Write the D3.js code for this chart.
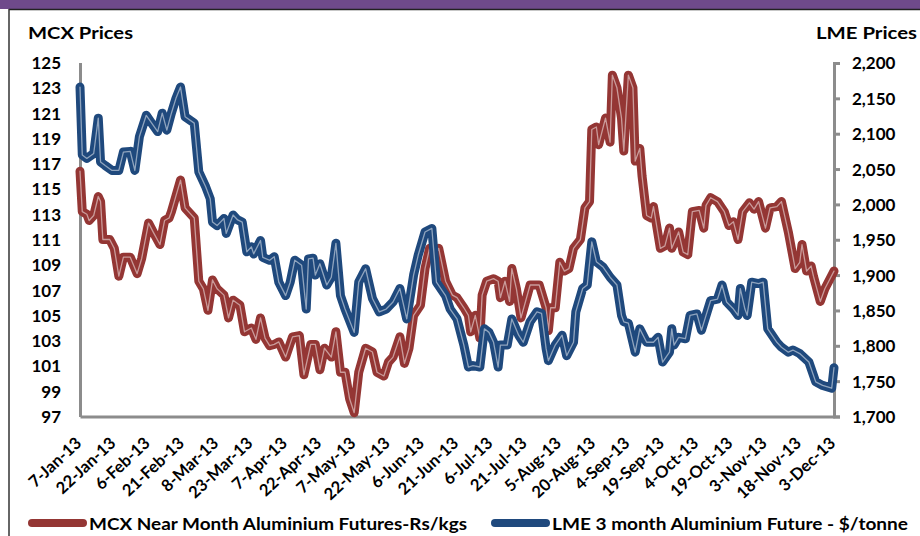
<!DOCTYPE html>
<html><head><meta charset="utf-8">
<script src="https://cdn.jsdelivr.net/npm/d3@7"></script>
<style>
html,body{margin:0;padding:0;background:#fff;}
svg text{font-family:Lato,"Open Sans",sans-serif;font-weight:700;fill:#000;}
</style></head>
<body><svg id="c" width="920" height="536"></svg>
<script>
const mcxDates = ["7-Jan-13","8-Jan-13","10-Jan-13","11-Jan-13","13-Jan-13","15-Jan-13","16-Jan-13","17-Jan-13","20-Jan-13","22-Jan-13","24-Jan-13","26-Jan-13","29-Jan-13",
"1-Feb-13","3-Feb-13","6-Feb-13","8-Feb-13","11-Feb-13","13-Feb-13","15-Feb-13","16-Feb-13","20-Feb-13","22-Feb-13","26-Feb-13","28-Feb-13",
"2-Mar-13","4-Mar-13","6-Mar-13","8-Mar-13","11-Mar-13","13-Mar-13","15-Mar-13","18-Mar-13","20-Mar-13","23-Mar-13","25-Mar-13","27-Mar-13","29-Mar-13","31-Mar-13",
"2-Apr-13","4-Apr-13","7-Apr-13","10-Apr-13","13-Apr-13","15-Apr-13","18-Apr-13","20-Apr-13","22-Apr-13","24-Apr-13","27-Apr-13","29-Apr-13",
"1-May-13","3-May-13","5-May-13","7-May-13","9-May-13","12-May-13","15-May-13","17-May-13","20-May-13","22-May-13","24-May-13","27-May-13","29-May-13","31-May-13",
"2-Jun-13","5-Jun-13","7-Jun-13","9-Jun-13","11-Jun-13","13-Jun-13","16-Jun-13","19-Jun-13","21-Jun-13","24-Jun-13","26-Jun-13","27-Jun-13","29-Jun-13",
"1-Jul-13","2-Jul-13","4-Jul-13","7-Jul-13","9-Jul-13","10-Jul-13","12-Jul-13","14-Jul-13","15-Jul-13","17-Jul-13","19-Jul-13","23-Jul-13","27-Jul-13","30-Jul-13","31-Jul-13",
"1-Aug-13","3-Aug-13","5-Aug-13","7-Aug-13","9-Aug-13","11-Aug-13","14-Aug-13","16-Aug-13","18-Aug-13","19-Aug-13","21-Aug-13","22-Aug-13","25-Aug-13","27-Aug-13","28-Aug-13","30-Aug-13",
"1-Sep-13","2-Sep-13","4-Sep-13","6-Sep-13","7-Sep-13","9-Sep-13","10-Sep-13","12-Sep-13","14-Sep-13","15-Sep-13","18-Sep-13","20-Sep-13","22-Sep-13","23-Sep-13","26-Sep-13","28-Sep-13","30-Sep-13",
"2-Oct-13","5-Oct-13","7-Oct-13","8-Oct-13","10-Oct-13","13-Oct-13","16-Oct-13","18-Oct-13","20-Oct-13","22-Oct-13","24-Oct-13","27-Oct-13","29-Oct-13","31-Oct-13",
"3-Nov-13","5-Nov-13","8-Nov-13","10-Nov-13","13-Nov-13","16-Nov-13","18-Nov-13","19-Nov-13","21-Nov-13","23-Nov-13","24-Nov-13","27-Nov-13","29-Nov-13","3-Dec-13"];
const mcxValues = [116.4,113.2,113.0,112.5,112.9,114.4,114.0,111.0,111.0,110.3,108.1,109.6,109.6,
108.3,109.5,112.3,111.6,110.6,112.5,112.7,113.2,115.7,113.5,112.7,107.7,
107.1,105.4,107.8,107.1,106.6,104.8,106.2,105.8,103.7,104.0,103.1,104.8,103.2,102.6,
102.7,102.9,101.7,103.3,103.4,100.3,102.7,102.7,100.7,102.4,101.7,103.7,
100.5,100.5,98.4,97.3,100.5,102.4,102.1,100.5,100.2,101.3,101.7,103.3,101.2,102.4,
105.0,105.8,108.7,110.3,109.5,110.3,107.7,106.6,106.4,105.6,105.0,103.7,105.0,
103.2,106.6,107.7,107.9,107.7,106.4,107.7,106.1,108.7,107.1,104.8,107.4,107.4,105.6,103.8,
105.6,105.6,109.2,108.5,108.7,110.3,111.0,113.5,114.0,119.7,119.9,118.5,120.6,118.7,124.0,123.0,
120.6,118.0,124.0,123.0,117.2,118.2,116.0,112.9,112.7,113.6,110.3,110.5,111.9,110.3,111.6,110.0,109.8,
113.2,113.3,111.9,113.7,114.3,114.0,113.2,112.1,112.4,111.0,113.2,113.9,113.4,114.0,
111.9,113.5,113.6,114.0,111.6,108.7,109.2,110.6,108.5,108.9,108.1,106.1,107.1,108.5];

const lmeDates = ["7-Jan-13","8-Jan-13","10-Jan-13","13-Jan-13","15-Jan-13","16-Jan-13","18-Jan-13","21-Jan-13","24-Jan-13","26-Jan-13","29-Jan-13","31-Jan-13",
"2-Feb-13","5-Feb-13","8-Feb-13","10-Feb-13","12-Feb-13","14-Feb-13","16-Feb-13","18-Feb-13","20-Feb-13","22-Feb-13","26-Feb-13","28-Feb-13",
"3-Mar-13","5-Mar-13","6-Mar-13","8-Mar-13","11-Mar-13","12-Mar-13","15-Mar-13","17-Mar-13","19-Mar-13","21-Mar-13","23-Mar-13","24-Mar-13","27-Mar-13","28-Mar-13","31-Mar-13",
"2-Apr-13","4-Apr-13","7-Apr-13","9-Apr-13","11-Apr-13","14-Apr-13","16-Apr-13","17-Apr-13","19-Apr-13","20-Apr-13","22-Apr-13","25-Apr-13","27-Apr-13","29-Apr-13",
"1-May-13","3-May-13","7-May-13","9-May-13","12-May-13","15-May-13","18-May-13","21-May-13","24-May-13","27-May-13","30-May-13",
"2-Jun-13","4-Jun-13","7-Jun-13","10-Jun-13","12-Jun-13","16-Jun-13","18-Jun-13","21-Jun-13","24-Jun-13","26-Jun-13","28-Jun-13",
"1-Jul-13","3-Jul-13","5-Jul-13","7-Jul-13","9-Jul-13","10-Jul-13","13-Jul-13","15-Jul-13","18-Jul-13","20-Jul-13","23-Jul-13","26-Jul-13","28-Jul-13","30-Jul-13","31-Jul-13",
"3-Aug-13","6-Aug-13","8-Aug-13","11-Aug-13","12-Aug-13","15-Aug-13","17-Aug-13","19-Aug-13","21-Aug-13","24-Aug-13","27-Aug-13","30-Aug-13",
"1-Sep-13","2-Sep-13","4-Sep-13","7-Sep-13","9-Sep-13","12-Sep-13","15-Sep-13","17-Sep-13","19-Sep-13","22-Sep-13","23-Sep-13","24-Sep-13","26-Sep-13","29-Sep-13",
"1-Oct-13","4-Oct-13","6-Oct-13","8-Oct-13","10-Oct-13","13-Oct-13","15-Oct-13","17-Oct-13","20-Oct-13","22-Oct-13","23-Oct-13","25-Oct-13","26-Oct-13","28-Oct-13","31-Oct-13",
"2-Nov-13","4-Nov-13","8-Nov-13","10-Nov-13","13-Nov-13","15-Nov-13","18-Nov-13","22-Nov-13","25-Nov-13","28-Nov-13","2-Dec-13","3-Dec-13"];
const lmeValues = [2166,2070,2065,2072,2122,2060,2055,2048,2048,2074,2075,2048,
2096,2126,2112,2103,2129,2105,2129,2150,2166,2124,2115,2046,
2025,2008,1975,1970,1980,1959,1985,1978,1975,1933,1940,1930,1949,1925,1921,
1926,1890,1871,1890,1921,1914,1852,1923,1924,1900,1916,1886,1897,1945,
1871,1852,1819,1890,1909,1867,1848,1852,1862,1881,1838,
1900,1928,1961,1966,1890,1871,1852,1838,1801,1770,1772,
1770,1824,1819,1805,1770,1801,1801,1838,1815,1805,1834,1848,1846,1796,1779,
1801,1815,1786,1805,1848,1881,1886,1947,1919,1911,1897,1886,
1843,1834,1832,1791,1824,1805,1805,1812,1777,1791,1824,1801,1812,1810,
1843,1845,1822,1843,1864,1866,1886,1862,1852,1843,1881,1852,1843,1890,1888,
1890,1824,1805,1798,1791,1794,1789,1777,1749,1744,1740,1769];

const xTickLabels = ["7-Jan-13","22-Jan-13","6-Feb-13","21-Feb-13","8-Mar-13","23-Mar-13","7-Apr-13","22-Apr-13","7-May-13","22-May-13","6-Jun-13","21-Jun-13","6-Jul-13","21-Jul-13","5-Aug-13","20-Aug-13","4-Sep-13","19-Sep-13","4-Oct-13","19-Oct-13","3-Nov-13","18-Nov-13","3-Dec-13"];
const leftTicks = [97,99,101,103,105,107,109,111,113,115,117,119,121,123,125];
const rightTicks = [1700,1750,1800,1850,1900,1950,2000,2050,2100,2150,2200];
const seriesNames = ["MCX Near Month Aluminium Futures-Rs/kgs","LME 3 month Aluminium Future - $/tonne"];
const axisTitles = ["MCX Prices","LME Prices"];

const parse = d3.timeParse("%d-%b-%y");
const colors = ["#943634","#1f497d"];
const svg = d3.select("#c");

// frame
svg.append("rect").attr("x",0).attr("y",0).attr("width",920).attr("height",9).attr("fill","#6f4a8b");
svg.append("line").attr("x1",9).attr("x2",920).attr("y1",9.5).attr("y2",9.5).attr("stroke","#222").attr("stroke-width",1.5);
svg.append("line").attr("x1",9).attr("x2",9).attr("y1",9).attr("y2",536).attr("stroke","#333").attr("stroke-width",1.5);

const x = d3.scaleTime().domain([parse(xTickLabels[0]), parse(xTickLabels[xTickLabels.length-1])]).range([80,834]);
const yL = d3.scaleLinear().domain([97,125]).range([416.5,62.5]);
const yR = d3.scaleLinear().domain([1700,2200]).range([416.5,63]);

const axisColor = "#8c8c8c";
// left axis
const gL = svg.append("g").attr("transform","translate(80,0)")
  .call(d3.axisLeft(yL).tickValues(leftTicks).tickSize(0).tickPadding(19).tickFormat(d3.format("d")));
gL.select(".domain").attr("stroke",axisColor).attr("stroke-width",3);
gL.selectAll("text").style("font-size","17px").attr("dy","0.35em");

// right axis
const gR = svg.append("g").attr("transform","translate(834,0)")
  .call(d3.axisRight(yR).tickValues(rightTicks).tickSize(6).tickPadding(12).tickFormat(d3.format(",")));
gR.select(".domain").attr("stroke",axisColor).attr("stroke-width",3);
gR.selectAll("line").attr("stroke",axisColor).attr("stroke-width",3);
gR.selectAll("text").style("font-size","17px").attr("dy","0.35em");

// bottom axis
const gB = svg.append("g").attr("transform","translate(0,416.5)")
  .call(d3.axisBottom(x).tickValues(xTickLabels.map(parse)).tickSize(0).tickFormat((d,i)=>xTickLabels[i]));
gB.select(".domain").attr("stroke",axisColor).attr("stroke-width",3);
gB.selectAll("text").style("font-size","16.5px").attr("text-anchor","end")
  .attr("dy",null).attr("y",0)
  .attr("transform","translate(2,28) rotate(-43)");

// axis titles
svg.append("text").attr("x",28).attr("y",39).style("font-size","17px").attr("textLength",105).attr("lengthAdjust","spacingAndGlyphs").text(axisTitles[0]);
svg.append("text").attr("x",816).attr("y",39).style("font-size","17px").attr("textLength",101).attr("lengthAdjust","spacingAndGlyphs").text(axisTitles[1]);

// lines
const mcx = mcxDates.map((d,i)=>({d:parse(d),v:mcxValues[i]}));
const lme = lmeDates.map((d,i)=>({d:parse(d),v:lmeValues[i]}));
const lineL = d3.line().x(p=>x(p.d)).y(p=>yL(p.v));
const lineR = d3.line().x(p=>x(p.d)).y(p=>yR(p.v));
function drawSeries(data, gen, col){
  svg.append("path").attr("d",gen(data)).attr("fill","none").attr("stroke",col).attr("stroke-width",9).attr("stroke-linejoin","round").attr("stroke-linecap","round");
  svg.append("path").attr("d",gen(data)).attr("fill","none").attr("stroke","#fff").attr("stroke-opacity",0.5).attr("stroke-width",1.3).attr("stroke-linejoin","round").attr("stroke-linecap","round");
}
drawSeries(mcx, lineL, colors[0]);
drawSeries(lme, lineR, colors[1]);

// legend
const leg = [{x1:32,x2:83,tx:89,tw:378},{x1:495,x2:546,tx:552,tw:356}];
leg.forEach((l,i)=>{
  svg.append("line").attr("x1",l.x1).attr("x2",l.x2).attr("y1",523).attr("y2",523).attr("stroke",colors[i]).attr("stroke-width",8).attr("stroke-linecap","round");
  svg.append("text").attr("x",l.tx).attr("y",530).style("font-size","17px").attr("textLength",l.tw).attr("lengthAdjust","spacingAndGlyphs").text(seriesNames[i]);
});
</script></body></html>
